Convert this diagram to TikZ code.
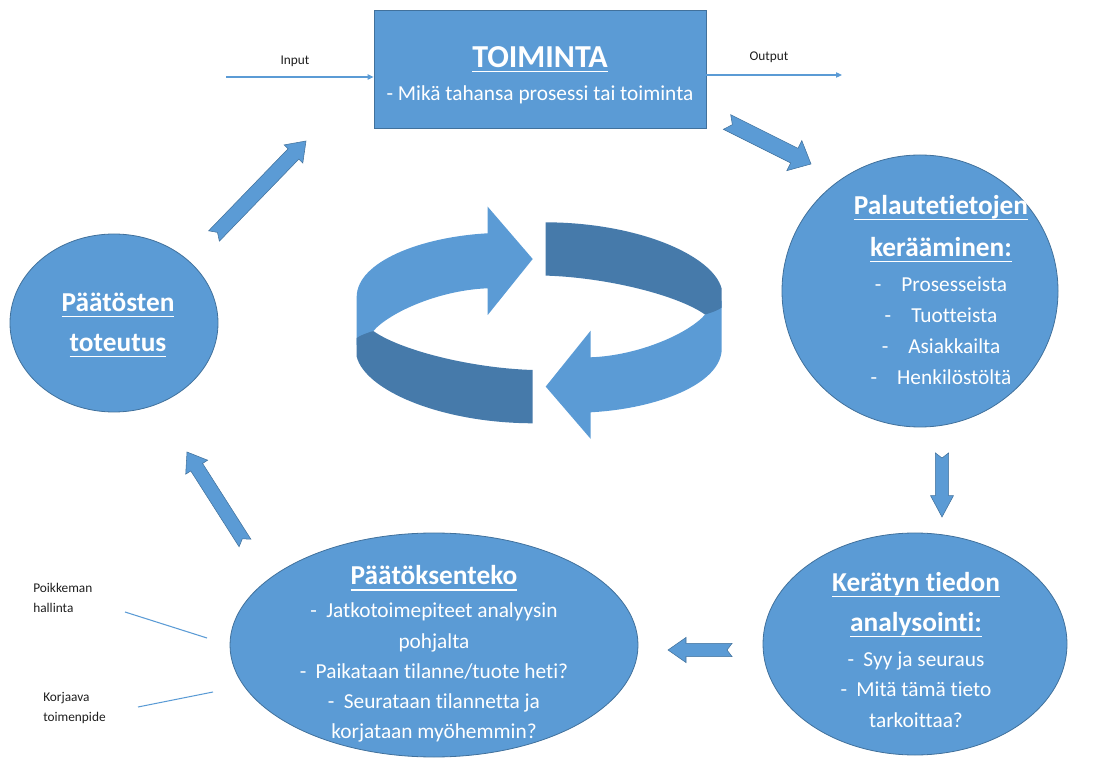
\documentclass[tikz,border=0pt]{standalone}
\usepackage{fontspec}
\setmainfont[Ligatures=NoCommon]{Carlito}
\usetikzlibrary{arrows.meta,positioning,shapes.geometric,calc}
\definecolor{ofblue}{RGB}{91,155,213}
\definecolor{ofedge}{RGB}{65,113,156}
\definecolor{ofdark}{RGB}{70,122,170}
\definecolor{oftext}{RGB}{30,30,30}

\newcommand\fnt[2]{\fontsize{#1}{#2}\selectfont}
\newcommand\ttlfont{\fnt{20.5}{21}\bfseries}
\newcommand\ttl[2][4.5pt]{\setbox0\hbox{#2}\rlap{\rule[-#1]{\wd0}{1.1pt}}\box0}

% notched block arrow: half shaft, half head, head length, notch, tail, tip
\newcommand\blockarrow[6]{%
  \coordinate (ba-b) at ($(#6)!#3!(#5)$);
  \filldraw[barrow] ($(#5)!#1!90:(#6)$) -- ($(ba-b)!#1!90:(#6)$) -- ($(ba-b)!#2!90:(#6)$) -- (#6)
    -- ($(ba-b)!#2!-90:(#6)$) -- ($(ba-b)!#1!-90:(#6)$) -- ($(#5)!#1!-90:(#6)$) -- ($(#5)!#4!(#6)$) -- cycle;
}

% one half of the circular arrow (the other is this, turned round)
\newcommand\ringhalf{%
  \fill[ofblue] (532.7,259) -- (487.7,206.7) -- (487.7,233.3)
    .. controls (420,237) and (357,262) .. (356.7,296.7)
    -- (356.7,345) -- (373.3,331)
    .. controls (390,312) and (440,290) .. (487.7,288.3)
    -- (487.7,315) -- cycle;
  \fill[ofdark] (532.7,370)
    .. controls (470,368) and (400,350) .. (373.3,331)
    .. controls (367,333) and (361,335) .. (356.7,338)
    -- (356.7,356.7)
    .. controls (365,390) and (440,423) .. (532.7,423.3)
    -- cycle;
}

\begin{document}
\begin{tikzpicture}[x=0.75pt,y=-0.75pt, >={Triangle[length=4.5pt,width=4pt]},
  bubble/.style={ellipse, draw=ofedge, fill=ofblue, line width=0.6pt, inner sep=0pt},
  txt/.style={text=white, align=center, inner sep=0pt},
  note/.style={text=oftext, font=\fnt{10}{15}, align=left, inner sep=0pt},
  feed/.style={ofblue, line width=0.8pt},
  barrow/.style={fill=ofblue, draw=ofedge, line width=0.4pt}]
\useasboundingbox (0,0) rectangle (1103,762);

% process box
\node[draw=ofedge, fill=ofblue, line width=0.6pt, minimum width=249pt, minimum height=88.5pt, inner sep=0pt] (toim) at (540,69) {};
\node[txt, font=\fnt{16}{25}] (toim-t) at (540,75) {{\fnt{24}{25}\bfseries\ttl[3.75pt]{TOIMINTA}}\\- Mikä tahansa prosessi tai toiminta};

\coordinate (in0) at (226,77);
\coordinate (out1) at (842,75);
\draw[feed,->] (in0) -- (in0 -| toim.west);
\draw[feed,->] (toim.east |- out1) -- (out1);
\node[note] (inp) at (295,61) {Input};
\node[note] (outp) at (769,57) {Output};

% the four stages
\node[bubble, minimum width=207pt, minimum height=204pt] (palaut) at (920,291) {};
\node[bubble, minimum width=228pt, minimum height=166.5pt] (keratyn) at (915,644) {};
\node[bubble, minimum width=306pt, minimum height=168pt] (paatos) at (434,645) {};
\node[bubble, minimum width=156pt, minimum height=133.5pt] (toteutus) at (114,323) {};

\node[txt, font=\fnt{16}{23.3}] (palaut-t) at (941,290) {%
  {\ttlfont\ttl{Palautetietojen}}\\[8.2pt]
  {\ttlfont\ttl{kerääminen:}}\\[3pt]
  -\hspace{15pt}Prosesseista\\
  -\hspace{15pt}Tuotteista\\
  -\hspace{15pt}Asiakkailta\\
  -\hspace{15pt}Henkilöstöltä};
\node[txt, font=\fnt{16}{23}] (keratyn-t) at (916,650) {%
  {\ttlfont\ttl{Kerätyn tiedon}}\\[7pt]
  {\ttlfont\ttl{analysointi:}}\\[3.2pt]
  -\hspace{7pt}Syy ja seuraus\\
  -\hspace{7pt}Mitä tämä tieto\\
  tarkoittaa?};
\node[txt, font=\fnt{16}{22.7}] (paatos-t) at (434,654) {%
  {\ttlfont\ttl{Päätöksenteko}}\\[2.3pt]
  -\hspace{7pt}Jatkotoimepiteet analyysin\\
  pohjalta\\
  -\hspace{7pt}Paikataan tilanne/tuote heti?\\
  -\hspace{7pt}Seurataan tilannetta ja\\
  korjataan myöhemmin?};
\node[txt, font=\fnt{20.5}{30}\bfseries] (toteutus-t) at (118,325) {\ttl{Päätösten}\\\ttl{toteutus}};

% block arrows between the stages
\coordinate (a1-t) at (214,236); \coordinate (a1-h) at (306,141);
\coordinate (a2-t) at (727,122); \coordinate (a2-h) at (811,164);
\coordinate (a3-t) at (942,453); \coordinate (a3-h) at (942,517);
\coordinate (a4-t) at (732,650); \coordinate (a4-h) at (668,650);
\coordinate (a5-t) at (245,543); \coordinate (a5-h) at (187,452);
\blockarrow{5.6pt}{9.75pt}{13.5pt}{3.75pt}{a1-t}{a1-h}
\blockarrow{6.15pt}{12.6pt}{14pt}{4.5pt}{a2-t}{a2-h}
\blockarrow{4.9pt}{8.6pt}{16pt}{3.75pt}{a3-t}{a3-h}
\blockarrow{4.9pt}{9.4pt}{13.5pt}{3.75pt}{a4-t}{a4-h}
\blockarrow{5.25pt}{9.75pt}{13.5pt}{3.75pt}{a5-t}{a5-h}

% circular arrow in the middle
\ringhalf
\begin{scope}[rotate around={180:(539.2,322.8)}]
  \ringhalf
\end{scope}

% side notes
\node[note, anchor=north west] (poik) at (33,583) {Poikkeman\\hallinta};
\node[note, anchor=north west] (korj) at (43,692) {Korjaava\\toimenpide};
\coordinate (poik-a) at (125,612); \coordinate (poik-b) at (207,638);
\coordinate (korj-a) at (138,707); \coordinate (korj-b) at (213,692);
\draw[feed] (poik-a) -- (poik-b);
\draw[feed] (korj-a) -- (korj-b);
\end{tikzpicture}
\end{document}
